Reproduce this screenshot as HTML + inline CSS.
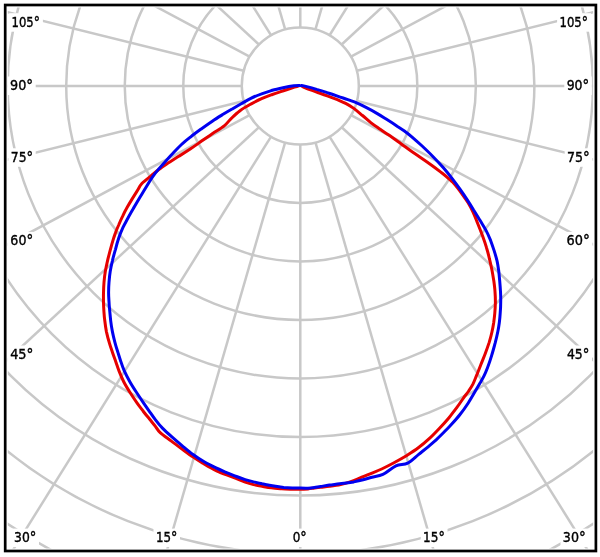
<!DOCTYPE html><html><head><meta charset="utf-8"><style>html,body{margin:0;padding:0;background:#fff;}svg{display:block;}text{font-family:"DejaVu Sans","Liberation Sans",sans-serif;font-size:13.6px;fill:#000;stroke:#000;stroke-width:0.38px;}</style></head><body>
<svg width="600" height="557" viewBox="0 0 600 557">
<defs><clipPath id="c"><rect x="7.8" y="7.6" width="585.3" height="540.8"/></clipPath></defs>
<rect width="600" height="557" fill="#fff"/>
<g clip-path="url(#c)" fill="none" stroke="#c8c8c8" stroke-width="2.5">
<circle cx="300.3" cy="85.9" r="58.52"/>
<circle cx="300.3" cy="85.9" r="117.04"/>
<circle cx="300.3" cy="85.9" r="175.56"/>
<circle cx="300.3" cy="85.9" r="234.08"/>
<circle cx="300.3" cy="85.9" r="292.60"/>
<circle cx="300.3" cy="85.9" r="351.12"/>
<circle cx="300.3" cy="85.9" r="409.64"/>
<circle cx="300.3" cy="85.9" r="468.16"/>
<circle cx="300.3" cy="85.9" r="526.68"/>
<line x1="300.30" y1="144.42" x2="300.30" y2="1044.42"/>
<line x1="315.45" y1="142.43" x2="565.86" y2="1006.89"/>
<line x1="329.56" y1="136.58" x2="806.10" y2="900.07"/>
<line x1="341.68" y1="127.28" x2="1002.37" y2="738.42"/>
<line x1="350.98" y1="115.16" x2="1144.86" y2="539.13"/>
<line x1="356.83" y1="101.05" x2="1230.39" y2="317.56"/>
<line x1="358.82" y1="85.90" x2="1258.82" y2="85.90"/>
<line x1="356.83" y1="70.75" x2="1230.39" y2="-145.76"/>
<line x1="350.98" y1="56.64" x2="1144.86" y2="-367.33"/>
<line x1="341.68" y1="44.52" x2="1002.37" y2="-566.62"/>
<line x1="329.56" y1="35.22" x2="806.10" y2="-728.27"/>
<line x1="315.45" y1="29.37" x2="565.86" y2="-835.09"/>
<line x1="300.30" y1="27.38" x2="300.30" y2="-872.62"/>
<line x1="285.15" y1="29.37" x2="34.74" y2="-835.09"/>
<line x1="271.04" y1="35.22" x2="-205.50" y2="-728.27"/>
<line x1="258.92" y1="44.52" x2="-401.77" y2="-566.62"/>
<line x1="249.62" y1="56.64" x2="-544.26" y2="-367.33"/>
<line x1="243.77" y1="70.75" x2="-629.79" y2="-145.76"/>
<line x1="241.78" y1="85.90" x2="-658.22" y2="85.90"/>
<line x1="243.77" y1="101.05" x2="-629.79" y2="317.56"/>
<line x1="249.62" y1="115.16" x2="-544.26" y2="539.13"/>
<line x1="258.92" y1="127.28" x2="-401.77" y2="738.42"/>
<line x1="271.04" y1="136.58" x2="-205.50" y2="900.07"/>
<line x1="285.15" y1="142.43" x2="34.74" y2="1006.89"/>
</g>
<rect x="9.1" y="13.2" width="33.8" height="18.5" fill="#fff"/>
<rect x="7.7" y="76.5" width="28.0" height="18.5" fill="#fff"/>
<rect x="8.4" y="148.3" width="27.3" height="18.5" fill="#fff"/>
<rect x="8.0" y="231.9" width="27.7" height="18.5" fill="#fff"/>
<rect x="7.8" y="345.5" width="28.2" height="18.5" fill="#fff"/>
<rect x="11.7" y="528.6" width="27.3" height="18.5" fill="#fff"/>
<rect x="153.5" y="528.6" width="26.5" height="18.5" fill="#fff"/>
<rect x="290.3" y="528.6" width="19.7" height="18.5" fill="#fff"/>
<rect x="420.7" y="528.6" width="26.8" height="18.5" fill="#fff"/>
<rect x="560.5" y="528.6" width="27.8" height="18.5" fill="#fff"/>
<rect x="557.1" y="13.2" width="33.9" height="18.5" fill="#fff"/>
<rect x="564.3" y="76.5" width="27.5" height="18.5" fill="#fff"/>
<rect x="564.7" y="148.3" width="27.7" height="18.5" fill="#fff"/>
<rect x="564.2" y="231.9" width="28.2" height="18.5" fill="#fff"/>
<rect x="564.5" y="345.5" width="27.5" height="18.5" fill="#fff"/>
<path d="M300.4,85.4 C298.9,85.9 294.7,87.2 291.7,88.1 C288.7,89.0 285.8,90.0 282.6,91.0 C279.3,92.1 275.8,93.2 272.3,94.5 C268.8,95.8 265.2,97.1 261.6,98.7 C258.0,100.3 254.4,102.1 250.8,104.1 C247.2,106.1 243.2,108.3 240.0,110.7 C236.8,113.1 234.0,115.8 231.4,118.3 C228.7,120.8 227.3,123.4 224.2,125.9 C221.1,128.4 216.4,130.9 212.6,133.4 C208.8,136.0 205.2,138.6 201.6,141.1 C197.9,143.7 194.3,146.3 190.6,148.8 C186.8,151.3 182.9,153.8 179.1,156.1 C175.4,158.5 171.5,160.8 168.1,163.0 C164.7,165.3 161.7,167.3 158.8,169.5 C155.9,171.7 153.6,173.8 150.8,176.1 C148.0,178.4 144.2,181.1 141.9,183.6 C139.6,186.1 138.9,188.3 137.2,190.9 C135.6,193.5 133.9,196.2 132.2,198.9 C130.5,201.7 128.8,204.5 127.2,207.3 C125.6,210.1 124.1,213.0 122.8,215.9 C121.4,218.7 120.1,221.6 118.9,224.5 C117.6,227.4 116.4,230.2 115.4,233.1 C114.3,236.0 113.5,238.7 112.6,241.6 C111.7,244.5 111.0,247.4 110.1,250.6 C109.3,253.8 108.3,257.3 107.5,260.8 C106.7,264.3 105.9,268.0 105.3,271.6 C104.7,275.2 104.3,278.7 104.0,282.3 C103.7,285.9 103.6,289.7 103.5,293.1 C103.4,296.5 103.5,299.7 103.5,302.7 C103.6,305.7 103.7,308.2 103.9,311.2 C104.1,314.2 104.3,317.4 104.8,320.8 C105.2,324.2 105.7,328.0 106.4,331.6 C107.2,335.2 108.1,338.9 109.2,342.3 C110.2,345.8 111.4,349.2 112.5,352.4 C113.6,355.6 114.6,358.3 115.7,361.4 C116.8,364.5 117.7,367.5 119.0,370.9 C120.3,374.2 121.8,377.9 123.6,381.5 C125.4,385.1 127.7,388.8 129.9,392.3 C132.1,395.8 134.5,399.4 136.8,402.6 C139.0,405.8 141.3,408.7 143.4,411.5 C145.5,414.3 147.7,416.8 149.7,419.3 C151.6,421.7 153.5,423.9 155.2,426.1 C157.0,428.4 157.5,430.1 160.2,432.6 C162.9,435.1 167.7,438.3 171.4,441.1 C175.1,443.9 178.7,446.7 182.3,449.3 C186.0,452.0 189.8,454.8 193.2,457.1 C196.7,459.5 200.2,461.6 203.0,463.3 C205.8,465.0 207.7,466.2 210.1,467.5 C212.4,468.8 214.3,469.9 217.1,471.2 C219.8,472.4 223.3,473.7 226.6,474.9 C229.8,476.1 233.4,477.4 236.5,478.5 C239.6,479.7 242.3,481.0 245.2,482.1 C248.0,483.1 250.7,483.9 253.5,484.6 C256.3,485.3 259.1,485.8 262.1,486.3 C265.0,486.8 268.1,487.4 271.3,487.8 C274.6,488.2 278.2,488.5 281.6,488.8 C284.9,489.0 288.4,489.1 291.5,489.2 C294.6,489.3 297.4,489.4 300.1,489.3 C302.9,489.3 305.6,489.1 308.0,488.9 C310.4,488.6 312.5,488.2 314.6,487.9 C316.8,487.6 318.3,487.4 320.7,487.2 C323.2,486.9 326.1,486.8 329.4,486.3 C332.7,485.9 337.0,485.4 340.6,484.6 C344.1,483.8 347.6,482.7 350.8,481.6 C354.1,480.5 356.9,479.2 360.1,477.9 C363.3,476.6 366.6,475.4 370.1,473.9 C373.7,472.4 377.7,470.9 381.7,469.0 C385.6,467.1 389.9,464.9 394.0,462.7 C398.1,460.5 402.3,458.2 406.4,455.7 C410.4,453.2 414.5,450.7 418.3,447.8 C422.1,445.0 425.7,442.0 429.2,438.7 C432.7,435.5 436.0,432.0 439.3,428.5 C442.6,425.0 446.0,421.3 449.0,417.7 C451.9,414.2 454.6,410.5 457.1,407.2 C459.5,403.9 461.6,400.6 463.6,397.8 C465.6,395.1 467.4,393.0 468.9,390.7 C470.4,388.5 471.6,386.8 472.9,384.2 C474.1,381.6 475.3,378.5 476.7,375.2 C478.0,371.9 479.5,368.1 480.9,364.5 C482.3,360.9 483.8,357.4 485.2,353.7 C486.6,350.0 488.0,346.0 489.2,342.4 C490.3,338.7 491.3,335.0 492.0,331.7 C492.8,328.4 493.2,325.8 493.7,322.7 C494.1,319.6 494.5,316.5 494.8,313.1 C495.1,309.7 495.3,305.9 495.4,302.3 C495.4,298.7 495.3,295.2 495.0,291.6 C494.8,288.0 494.3,284.4 493.8,280.8 C493.2,277.2 492.6,273.5 491.9,269.8 C491.1,266.1 490.3,262.4 489.4,258.7 C488.6,255.0 487.7,251.5 486.5,247.7 C485.4,243.9 484.1,240.2 482.6,236.1 C481.1,232.0 479.3,227.3 477.6,223.2 C476.0,219.2 474.4,215.1 472.8,211.7 C471.2,208.2 469.8,205.6 468.1,202.8 C466.4,199.9 464.4,197.3 462.6,194.8 C460.8,192.3 459.0,189.7 457.3,187.6 C455.7,185.5 454.3,183.8 452.8,182.2 C451.3,180.7 450.2,180.0 448.4,178.4 C446.6,176.8 444.4,174.9 441.7,172.8 C439.0,170.7 435.7,168.1 432.3,165.7 C429.0,163.3 425.0,160.5 421.6,158.2 C418.2,155.8 414.8,153.5 412.1,151.7 C409.3,149.8 407.5,148.5 405.2,146.8 C402.9,145.2 401.1,143.8 398.3,141.8 C395.5,139.8 391.6,137.0 388.4,134.8 C385.1,132.5 381.6,130.3 378.6,128.2 C375.7,126.2 373.5,124.7 370.8,122.6 C368.1,120.5 365.3,117.8 362.5,115.5 C359.6,113.1 356.5,110.4 353.8,108.4 C351.0,106.4 348.5,104.9 345.7,103.4 C343.0,102.0 340.3,101.0 337.3,99.7 C334.2,98.5 330.8,97.2 327.3,95.9 C323.9,94.6 320.2,93.3 316.6,92.0 C313.0,90.7 308.5,89.3 305.8,88.2 C303.1,87.1 301.3,85.9 300.4,85.4" fill="none" stroke="#e60000" stroke-width="3" stroke-linejoin="round"/>
<path d="M300.4,85.4 C299.3,85.5 296.8,85.3 293.9,85.7 C291.0,86.1 286.7,86.9 283.1,87.7 C279.5,88.5 275.9,89.3 272.3,90.3 C268.7,91.4 265.2,92.4 261.6,93.8 C258.0,95.1 254.2,96.7 250.8,98.4 C247.4,100.1 244.2,102.0 241.2,103.7 C238.2,105.4 235.7,106.9 232.7,108.7 C229.7,110.4 226.5,112.2 223.1,114.3 C219.7,116.4 215.9,118.7 212.3,121.2 C208.7,123.6 205.2,126.1 201.6,128.7 C198.0,131.3 194.1,134.1 190.8,136.8 C187.5,139.4 184.3,141.9 181.5,144.5 C178.7,147.1 176.6,149.4 174.1,152.1 C171.5,154.8 168.7,157.9 166.1,160.8 C163.5,163.6 160.8,166.4 158.6,169.1 C156.3,171.8 154.5,174.1 152.4,177.1 C150.4,180.0 148.3,183.4 146.2,186.9 C144.0,190.4 141.6,194.5 139.5,198.1 C137.4,201.7 135.4,205.1 133.4,208.4 C131.5,211.7 129.7,214.8 128.0,218.0 C126.3,221.2 124.5,224.2 123.0,227.4 C121.5,230.7 120.2,233.9 118.9,237.6 C117.7,241.2 116.5,245.4 115.5,249.3 C114.4,253.1 113.2,257.1 112.4,260.8 C111.5,264.5 110.8,268.0 110.2,271.6 C109.6,275.2 109.3,278.8 109.0,282.3 C108.7,285.8 108.6,289.3 108.6,292.6 C108.6,295.8 108.8,298.6 109.0,301.6 C109.1,304.6 109.4,307.4 109.7,310.6 C110.0,313.8 110.3,317.3 110.7,320.8 C111.1,324.3 111.7,328.0 112.4,331.6 C113.1,335.2 114.0,338.9 114.9,342.3 C115.8,345.8 116.9,349.2 117.9,352.4 C118.9,355.6 119.7,358.3 120.8,361.4 C121.8,364.5 122.8,367.5 124.3,370.9 C125.8,374.2 127.7,377.9 129.7,381.5 C131.7,385.1 134.1,388.8 136.4,392.3 C138.7,395.8 141.1,399.4 143.3,402.6 C145.5,405.8 147.6,408.9 149.7,411.8 C151.7,414.7 153.5,417.4 155.7,420.1 C157.8,422.9 160.0,425.6 162.7,428.4 C165.4,431.2 168.6,434.0 171.9,436.9 C175.1,439.8 178.8,442.9 182.3,445.8 C185.9,448.8 189.5,451.9 193.1,454.5 C196.7,457.2 200.4,459.6 204.2,461.8 C207.9,464.0 211.8,465.9 215.5,467.7 C219.3,469.5 223.1,471.1 226.6,472.6 C230.1,474.1 233.4,475.3 236.5,476.5 C239.6,477.7 242.3,478.7 245.2,479.6 C248.0,480.5 250.7,481.2 253.5,481.9 C256.3,482.6 258.9,483.1 262.1,483.8 C265.2,484.4 268.8,485.2 272.4,485.8 C276.0,486.4 280.4,487.1 283.7,487.5 C287.1,487.8 289.9,487.9 292.6,488.0 C295.3,488.1 297.6,488.1 300.1,488.1 C302.7,488.2 305.5,488.3 307.9,488.2 C310.2,488.1 312.2,487.9 314.4,487.6 C316.5,487.3 318.1,486.9 320.6,486.5 C323.1,486.1 325.9,485.6 329.4,485.1 C332.9,484.7 337.6,484.2 341.6,483.6 C345.7,483.1 350.2,482.5 353.8,481.9 C357.4,481.2 360.1,480.6 363.1,479.8 C366.1,479.0 368.6,478.2 371.9,477.3 C375.2,476.4 378.9,476.3 382.9,474.4 C386.9,472.5 391.8,467.7 395.9,465.8 C400.0,463.9 403.9,465.0 407.7,463.1 C411.5,461.2 415.2,457.2 418.7,454.3 C422.2,451.5 425.8,448.7 428.7,446.3 C431.6,443.8 433.8,442.0 436.2,439.8 C438.6,437.6 440.4,435.8 442.9,433.3 C445.4,430.8 448.3,427.9 451.1,424.8 C454.0,421.6 457.2,418.1 460.0,414.5 C462.9,410.9 465.6,407.0 468.1,403.2 C470.6,399.3 473.2,394.8 475.2,391.3 C477.3,387.8 479.0,384.8 480.5,382.3 C481.9,379.8 482.7,378.7 483.9,376.2 C485.1,373.7 486.3,370.9 487.6,367.5 C488.9,364.0 490.4,359.7 491.6,355.6 C492.9,351.5 494.1,346.9 495.2,342.9 C496.2,338.9 497.1,335.1 497.8,331.7 C498.5,328.3 498.9,325.8 499.3,322.7 C499.7,319.6 500.0,316.5 500.2,313.1 C500.5,309.7 500.7,305.9 500.7,302.3 C500.8,298.7 500.7,295.2 500.5,291.6 C500.3,288.0 500.0,284.3 499.7,280.8 C499.4,277.3 499.1,273.9 498.7,270.6 C498.2,267.3 497.8,264.4 497.1,261.1 C496.3,257.8 495.3,254.4 494.2,250.9 C493.1,247.5 491.9,243.9 490.6,240.4 C489.2,237.0 487.8,233.8 486.0,230.4 C484.2,227.0 482.0,223.7 480.0,220.3 C477.9,216.9 475.8,213.4 473.6,210.0 C471.5,206.5 469.4,203.1 467.1,199.6 C464.8,196.0 462.3,192.4 459.8,188.9 C457.3,185.3 454.8,181.9 452.0,178.3 C449.3,174.8 446.4,171.2 443.2,167.5 C439.9,163.8 436.2,159.9 432.6,156.2 C429.0,152.5 425.0,148.7 421.6,145.5 C418.1,142.3 414.7,139.3 411.8,136.8 C408.9,134.4 406.8,132.8 404.4,131.0 C402.0,129.3 400.2,128.1 397.5,126.4 C394.8,124.6 391.5,122.4 388.1,120.3 C384.7,118.2 380.9,115.7 377.3,113.6 C373.7,111.4 369.9,109.3 366.5,107.6 C363.0,105.8 359.7,104.2 356.6,102.9 C353.5,101.6 350.9,100.8 347.8,99.6 C344.7,98.5 341.5,97.5 338.1,96.3 C334.7,95.1 330.9,93.8 327.3,92.7 C323.7,91.5 320.2,90.4 316.6,89.4 C313.0,88.3 308.5,87.1 305.8,86.4 C303.1,85.7 301.3,85.6 300.4,85.4" fill="none" stroke="#0000f0" stroke-width="3" stroke-linejoin="round"/>
<text transform="translate(11.55,26.5) scale(0.855,1)">105<tspan style="font-size:14.5px">°</tspan></text>
<text transform="translate(10.06,89.8) scale(0.941,1)">90<tspan style="font-size:14.5px">°</tspan></text>
<text transform="translate(10.79,161.6) scale(0.909,1)">75<tspan style="font-size:14.5px">°</tspan></text>
<text transform="translate(10.37,245.2) scale(0.927,1)">60<tspan style="font-size:14.5px">°</tspan></text>
<text transform="translate(10.15,358.8) scale(0.950,1)">45<tspan style="font-size:14.5px">°</tspan></text>
<text transform="translate(14.09,541.9) scale(0.909,1)">30<tspan style="font-size:14.5px">°</tspan></text>
<text transform="translate(155.93,541.9) scale(0.873,1)">15<tspan style="font-size:14.5px">°</tspan></text>
<text transform="translate(292.71,541.9) scale(0.886,1)">0<tspan style="font-size:14.5px">°</tspan></text>
<text transform="translate(423.11,541.9) scale(0.886,1)">15<tspan style="font-size:14.5px">°</tspan></text>
<text transform="translate(562.87,541.9) scale(0.932,1)">30<tspan style="font-size:14.5px">°</tspan></text>
<text transform="translate(559.54,26.5) scale(0.858,1)">105<tspan style="font-size:14.5px">°</tspan></text>
<text transform="translate(566.68,89.8) scale(0.918,1)">90<tspan style="font-size:14.5px">°</tspan></text>
<text transform="translate(567.07,161.6) scale(0.927,1)">75<tspan style="font-size:14.5px">°</tspan></text>
<text transform="translate(566.55,245.2) scale(0.950,1)">60<tspan style="font-size:14.5px">°</tspan></text>
<text transform="translate(566.88,358.8) scale(0.918,1)">45<tspan style="font-size:14.5px">°</tspan></text>
<rect x="5.2" y="5" width="590.7" height="546" fill="none" stroke="#000" stroke-width="2.7"/>
</svg></body></html>
